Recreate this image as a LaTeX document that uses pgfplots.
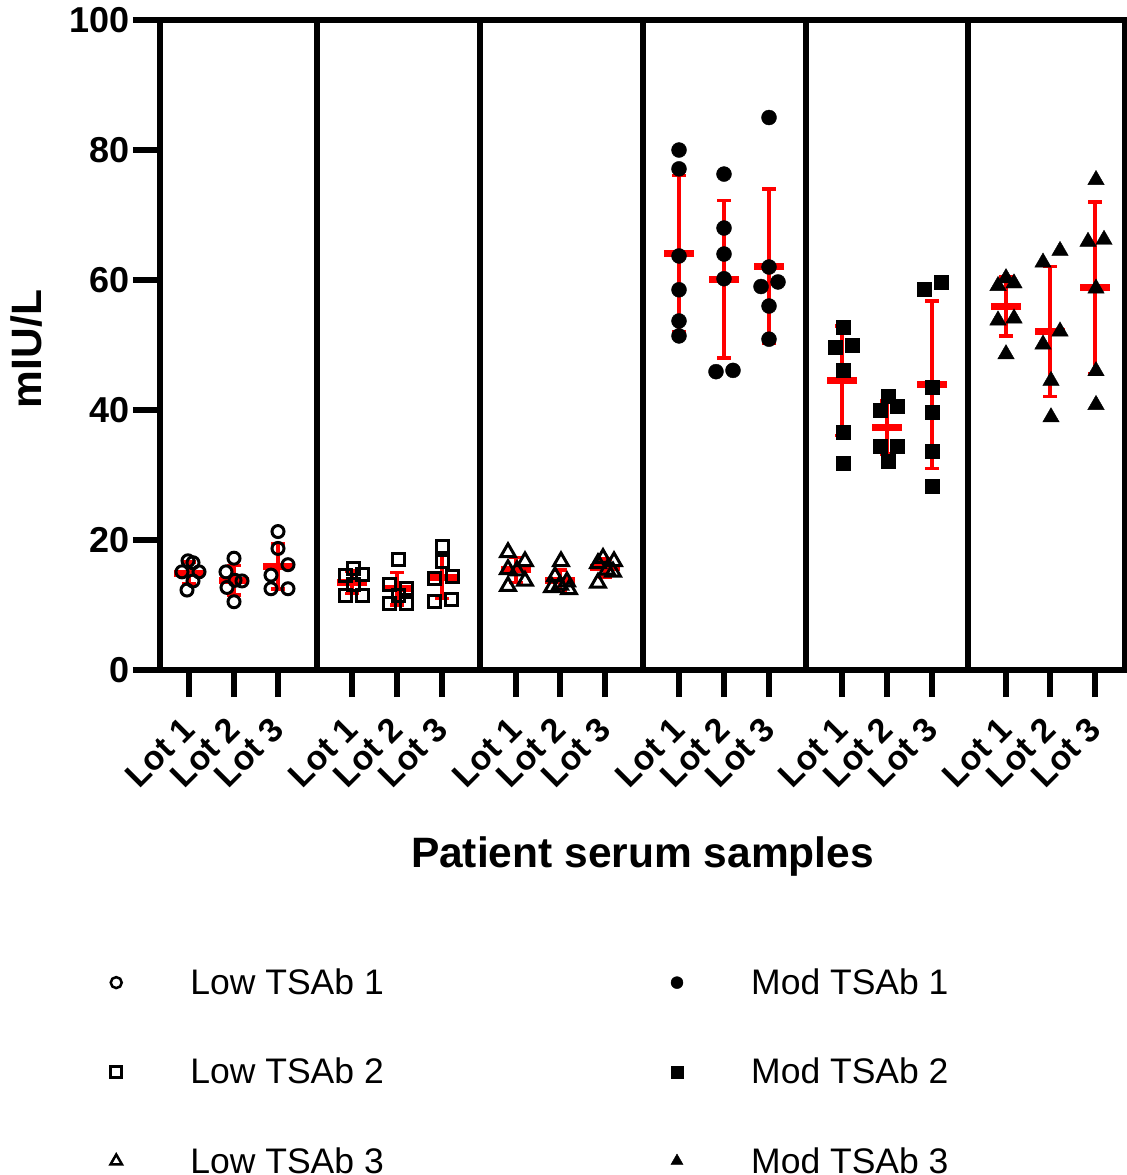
\documentclass[border=0pt]{standalone}
\usepackage{pgfplots}
\pgfplotsset{compat=1.18}
\usepackage{fontspec}
\setmainfont{Liberation Sans}
\begin{document}
\begin{tikzpicture}
\useasboundingbox (0,0) rectangle (1127bp,-1175bp);
\begin{axis}[
 at={(160bp,-670bp)}, anchor=south west,
 scale only axis, width=965bp, height=650bp,
 xmin=160, xmax=1125, ymin=0, ymax=100,
 clip=false,
 axis line style={line width=5.5bp},
 tick align=outside, major tick length=27bp,
 tick style={line width=5.5bp, black},
 tick pos=left,
 xtick={189,234,278,352,397,442,516,560,605,679,724,769,842,887,932,1006,1050,1095},
 xticklabels={Lot 1,Lot 2,Lot 3,Lot 1,Lot 2,Lot 3,Lot 1,Lot 2,Lot 3,Lot 1,Lot 2,Lot 3,Lot 1,Lot 2,Lot 3,Lot 1,Lot 2,Lot 3},
 ytick={0,20,40,60,80,100},
 yticklabels={0,20,40,60,80,100},
 yticklabel style={font=\fontsize{36bp}{43bp}\selectfont\bfseries},
 xticklabel style={yshift=-24bp, xshift=2bp, font=\fontsize{34bp}{40bp}\selectfont\bfseries, rotate=45, anchor=east},
 xlabel={Patient serum samples}, ylabel={mIU/L},
 label style={font=\fontsize{42.5bp}{50bp}\selectfont\bfseries},
 xlabel style={at={(axis description cs:0.5,-0.2875)}, anchor=center},
 ylabel style={at={(axis description cs:-0.138,0.4938)}, anchor=center},
 legend columns=2,
 legend cell align=left,
 legend image code/.code={\draw[#1] plot coordinates {(0bp,0bp)}; \path (-15bp,-5bp) (72bp,5bp);},
 legend style={at={(axis description cs:-0.0611,-0.4569)}, anchor=north west, draw=none, fill=none, inner sep=0pt, outer sep=0pt, font=\fontsize{35.5bp}{42bp}\selectfont, row sep=58bp, /tikz/every even column/.append style={column sep=276bp}},
]
% separators
\addplot[black, line width=6bp, forget plot] coordinates {(317,0) (317,100)};
\addplot[black, line width=6bp, forget plot] coordinates {(480,0) (480,100)};
\addplot[black, line width=6bp, forget plot] coordinates {(643,0) (643,100)};
\addplot[black, line width=6bp, forget plot] coordinates {(806,0) (806,100)};
\addplot[black, line width=6bp, forget plot] coordinates {(968,0) (968,100)};
% means and SD
\addplot[red, only marks, mark=-, mark size=15bp, mark options={line width=7bp, red}, forget plot,
  error bars/.cd, y dir=both, y explicit,
  error bar style={line width=3.5bp, red},
  error mark options={rotate=90, mark size=7bp, line width=3.5bp, red}]
  table[x=x, y=y, y error=e] {
x y e
189 14.9 1.7
234 13.8 2.25
278 16.0 3.5
352 13.5 1.75
397 12.5 2.5
442 14.3 3.3
516 15.4 1.9
560 13.8 1.6
605 15.7 1.4
679 64.1 12.0
724 60.1 12.1
769 62.1 11.9
842 44.5 8.4
887 37.3 4.1
932 43.9 12.9
1006 55.9 4.55
1050 52.1 10.0
1095 58.8 13.2
};
% Low TSAb 1
\addplot[black, only marks, mark=o, mark size=6bp, mark options={line width=3bp}, forget plot] table {
x y
188 16.8
193 16.5
182 15.1
199 15.1
193 13.7
187 12.3
234 17.2
226 15.1
235 13.8
242 13.7
227 12.7
234 10.5
278 21.3
278 18.7
288 16.2
271 14.6
271 12.5
288 12.5
};
% Low TSAb 2
\addplot[black, only marks, mark=square, mark size=6bp, mark options={line width=3bp}, forget plot] table {
x y
353 15.6
345 14.6
362 14.7
353 13.1
345 11.5
362 11.5
398 17.0
389 13.2
406 12.6
398 11.5
389 10.3
406 10.3
442 19.0
442 16.7
434 14.1
452 14.4
434 10.5
451 10.9
};
% Low TSAb 3
\addplot[black, only marks, mark=triangle, mark size=8.5bp, mark options={line width=3bp}, forget plot] table {
x y
508 18.1
525 16.7
508 15.5
517 15.3
525 13.7
508 12.9
561 16.7
555 14.4
552 12.7
560 13.1
567 13.6
569 12.4
603 17.2
598 16.4
614 16.7
607 15.4
613 15.1
598 13.4
};
% Mod TSAb 1
\addplot[black, only marks, mark=*, mark size=7.5bp, forget plot] table {
x y
679 80.0
679 77.1
679 63.7
679 58.5
679 53.7
679 51.4
724 76.3
724 68.0
724 64.0
724 60.2
716 45.9
733 46.1
769 85.0
769 62.0
761 59.0
778 59.7
769 56.0
769 50.9
};
% Mod TSAb 2
\addplot[black, only marks, mark=square*, mark size=7bp, forget plot] table {
x y
843 52.8
835 49.7
852 50.0
843 46.2
843 36.6
843 31.8
888 42.1
880 40.0
897 40.6
880 34.4
897 34.4
888 32.2
924 58.6
941 59.6
932 43.5
932 39.7
932 33.7
932 28.3
};
% Mod TSAb 3
\addplot[black, only marks, mark=triangle*, mark size=9.5bp, forget plot] table {
x y
1006 60.3
998 59.1
1014 59.5
998 53.8
1014 54.1
1006 48.6
1060 64.5
1043 62.7
1060 52.1
1043 50.1
1051 44.5
1051 38.9
1096 75.4
1088 65.9
1104 66.2
1096 58.7
1096 46.0
1096 40.8
};
% legend
\addlegendimage{black, only marks, mark=o, mark size=5.5bp, mark options={line width=2.5bp}}
\addlegendentry{Low TSAb 1}
\addlegendimage{black, only marks, mark=*, mark size=6bp}
\addlegendentry{Mod TSAb 1}
\addlegendimage{black, only marks, mark=square, mark size=5.5bp, mark options={line width=2.5bp}}
\addlegendentry{Low TSAb 2}
\addlegendimage{black, only marks, mark=square*, mark size=6bp}
\addlegendentry{Mod TSAb 2}
\addlegendimage{black, only marks, mark=triangle, mark size=6.5bp, mark options={line width=2.5bp}}
\addlegendentry{Low TSAb 3}
\addlegendimage{black, only marks, mark=triangle*, mark size=7bp}
\addlegendentry{Mod TSAb 3}
\end{axis}
\end{tikzpicture}
\end{document}
